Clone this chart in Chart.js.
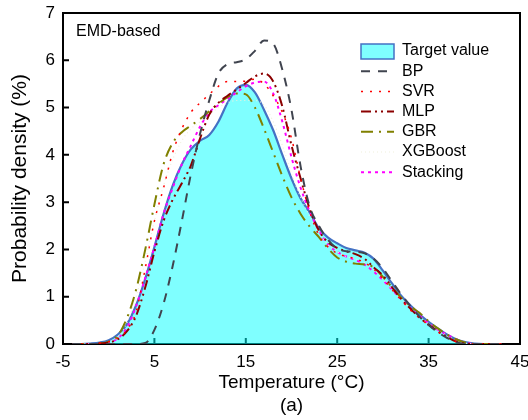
<!DOCTYPE html>
<html>
<head>
<meta charset="utf-8">
<script src="https://cdn.jsdelivr.net/npm/chart.js@4"></script>
<style>
  body { margin: 0; background: #fff; }
  canvas { display: block; }
</style>
</head>
<body>
<canvas id="kdeChart" width="528" height="420"></canvas>
<script>
// --- DATA ---
const temps = [-4, -3, -2, -1, 0, 1, 2, 3, 4, 5, 6, 7, 8, 9, 10, 11, 12, 13, 14, 15, 16, 17, 18, 19,
  20, 21, 22, 23, 24, 25, 26, 27, 28, 29, 30, 31, 32, 33, 34, 35, 36, 37, 38, 39, 40, 41, 42, 43];

const targetValue = [0, 0, 0.01, 0.03, 0.08, 0.2, 0.42, 0.82, 1.38, 2.05, 2.75, 3.35, 3.8, 4.12, 4.3, 4.42, 4.7, 5.1, 5.4, 5.48, 5.32, 4.95, 4.52, 4.0,
  3.5, 3.08, 2.78, 2.45, 2.25, 2.13, 2.03, 1.98, 1.93, 1.8, 1.55, 1.28, 1.02, 0.82, 0.63, 0.47, 0.33, 0.2, 0.1, 0.04, 0.01, 0, 0, 0];
const bp = [0, 0, 0, 0, 0, 0, 0, 0, 0.02, 0.3, 0.85, 1.65, 2.6, 3.6, 4.45, 5.15, 5.72, 5.92, 5.96, 6.02, 6.2, 6.42, 6.35, 5.8,
  4.95, 3.75, 2.9, 2.5, 2.2, 2.02, 1.96, 1.95, 1.92, 1.8, 1.6, 1.32, 1.05, 0.8, 0.58, 0.4, 0.25, 0.13, 0.04, 0, 0, 0, 0, 0];
const svr = [0, 0, 0, 0.02, 0.05, 0.13, 0.3, 0.68, 1.6, 2.6, 3.3, 4.05, 4.55, 4.9, 5.1, 5.28, 5.45, 5.55, 5.55, 5.56, 5.6, 5.5, 5.25, 4.9,
  4.35, 3.5, 2.8, 2.3, 2.05, 1.92, 1.85, 1.8, 1.72, 1.58, 1.38, 1.15, 0.93, 0.72, 0.55, 0.4, 0.26, 0.14, 0.05, 0, 0, 0, 0, 0];
const mlp = [0, 0, 0, 0.01, 0.03, 0.1, 0.27, 0.6, 1.2, 1.95, 2.6, 3.05, 3.4, 3.78, 4.35, 4.85, 5.1, 5.25, 5.38, 5.52, 5.66, 5.72, 5.55, 5.02,
  4.2, 3.5, 2.85, 2.4, 2.15, 2.03, 1.96, 1.9, 1.8, 1.62, 1.45, 1.2, 0.95, 0.75, 0.56, 0.41, 0.27, 0.15, 0.05, 0.01, 0, 0, 0, 0];
const gbr = [0, 0, 0, 0.01, 0.05, 0.18, 0.55, 1.15, 2.0, 2.95, 3.8, 4.25, 4.48, 4.62, 4.76, 4.92, 5.08, 5.22, 5.3, 5.28, 5.0, 4.55, 4.05, 3.55,
  3.1, 2.75, 2.48, 2.26, 2.02, 1.83, 1.74, 1.7, 1.68, 1.62, 1.42, 1.2, 0.98, 0.8, 0.66, 0.48, 0.33, 0.2, 0.1, 0.03, 0, 0, 0, 0];
const xgboost = [0, 0, 0, 0, 0.05, 0.15, 0.45, 1.0, 1.75, 2.6, 3.35, 3.9, 4.3, 4.55, 4.7, 4.85, 5.0, 5.1, 5.15, 5.15, 5.15, 5.05, 4.7, 4.2,
  3.6, 3.1, 2.7, 2.35, 2.1, 1.95, 1.85, 1.8, 1.72, 1.58, 1.38, 1.15, 0.95, 0.75, 0.58, 0.43, 0.3, 0.18, 0.08, 0.02, 0, 0, 0, 0];
const stacking = [0, 0, 0, 0, 0.03, 0.12, 0.35, 0.8, 1.4, 2.05, 2.75, 3.3, 3.8, 4.2, 4.6, 4.9, 5.05, 5.18, 5.32, 5.45, 5.53, 5.55, 5.3, 4.7,
  3.95, 3.3, 2.8, 2.4, 2.1, 1.95, 1.85, 1.78, 1.68, 1.53, 1.35, 1.15, 0.95, 0.76, 0.6, 0.44, 0.3, 0.2, 0.1, 0.03, 0, 0, 0, 0];

const xTicks = [-5, 5, 15, 25, 35, 45];
const yTicks = [0, 1, 2, 3, 4, 5, 6, 7];

const FONT = "'Liberation Sans', Arial, sans-serif";

const toPoints = (vals) => vals.map((v, i) => ({ x: temps[i], y: v }));

const line = (label, vals, color, dash, width) => ({
  label,
  data: toPoints(vals),
  borderColor: color,
  borderDash: dash,
  borderWidth: width,
  pointRadius: 0,
  fill: false,
  cubicInterpolationMode: 'monotone',
  order: 0
});

const datasets = [
  {
    label: 'Target value',
    data: toPoints(targetValue),
    borderColor: '#4472C4',
    borderWidth: 2.2,
    backgroundColor: 'rgba(0,255,255,0.5)',
    fill: 'origin',
    pointRadius: 0,
    cubicInterpolationMode: 'monotone',
    order: 1
  },
  line('BP', bp, '#40444F', [9, 8], 2),
  line('SVR', svr, '#FF0000', [2, 7], 1.5),
  line('MLP', mlp, '#8B0000', [10, 4, 2, 4, 2, 4], 2),
  line('GBR', gbr, '#808000', [12, 6, 2, 6], 2),
  line('XGBoost', xgboost, '#EFEFDC', [1, 3], 1.2),
  line('Stacking', stacking, '#FF00FF', [3, 4], 2)
];

// frame + inward ticks, drawn under the fill like in the original
const framePlugin = {
  id: 'frame',
  beforeDatasetsDraw(chart) {
    const { ctx, chartArea: a, scales: { x, y } } = chart;
    ctx.save();
    ctx.strokeStyle = '#000';
    ctx.lineWidth = 2;
    ctx.strokeRect(a.left, a.top, a.right - a.left, a.bottom - a.top);
    ctx.beginPath();
    xTicks.forEach(v => {
      const px = x.getPixelForValue(v);
      ctx.moveTo(px, a.bottom);
      ctx.lineTo(px, a.bottom - 6);
    });
    yTicks.forEach(v => {
      const py = y.getPixelForValue(v);
      ctx.moveTo(a.left, py);
      ctx.lineTo(a.left + 6, py);
    });
    ctx.stroke();
    ctx.restore();
  }
};

// note + legend drawn on top
const overlayPlugin = {
  id: 'overlay',
  afterDraw(chart) {
    const { ctx, chartArea: a } = chart;
    ctx.save();
    ctx.font = `16px ${FONT}`;
    ctx.fillStyle = '#000';
    ctx.textBaseline = 'middle';
    ctx.textAlign = 'left';
    ctx.fillText('EMD-based', a.left + 13, 32);

    const x0 = 361, x1 = 394, textX = 402;
    chart.data.datasets.forEach((ds, i) => {
      const cy = 51 + i * 20.2;
      if (i === 0) {
        ctx.fillStyle = ds.backgroundColor;
        ctx.fillRect(x0, cy - 7, x1 - x0, 15);
        ctx.strokeStyle = ds.borderColor;
        ctx.lineWidth = 1.5;
        ctx.setLineDash([]);
        ctx.strokeRect(x0, cy - 7, x1 - x0, 15);
      } else {
        ctx.strokeStyle = ds.borderColor;
        ctx.lineWidth = ds.borderWidth;
        ctx.setLineDash(ds.borderDash);
        ctx.beginPath();
        ctx.moveTo(x0, cy);
        ctx.lineTo(x1, cy);
        ctx.stroke();
      }
      ctx.setLineDash([]);
      ctx.fillStyle = '#000';
      ctx.fillText(ds.label, textX, cy);
    });
    ctx.restore();
  }
};

new Chart(document.getElementById('kdeChart'), {
  type: 'line',
  data: { datasets },
  options: {
    responsive: false,
    devicePixelRatio: 1,
    animation: false,
    layout: { padding: { top: 13, right: 8, left: 0, bottom: 0 } },
    plugins: { legend: { display: false }, tooltip: { enabled: false } },
    scales: {
      x: {
        type: 'linear',
        min: -5,
        max: 45,
        afterBuildTicks: (s) => { s.ticks = xTicks.map(v => ({ value: v })); },
        afterFit: (s) => { s.height = 76; s.paddingLeft = 0; s.paddingRight = 0; },
        grid: { display: false, drawTicks: false },
        border: { display: false },
        ticks: { color: '#000', padding: 8, font: { family: FONT, size: 17 } },
        title: {
          display: true,
          text: ['Temperature (°C)', '(a)'],
          color: '#000',
          padding: { top: 0, bottom: 3 },
          font: { family: FONT, size: 19, lineHeight: 1.2 }
        }
      },
      y: {
        min: 0,
        max: 7,
        afterBuildTicks: (s) => { s.ticks = yTicks.map(v => ({ value: v })); },
        afterFit: (s) => { s.width = 63; s.paddingTop = 0; s.paddingBottom = 0; },
        grid: { display: false, drawTicks: false },
        border: { display: false },
        ticks: { color: '#000', padding: 8, font: { family: FONT, size: 17 } },
        title: {
          display: true,
          text: 'Probability density (%)',
          color: '#000',
          padding: { top: 8, bottom: 0 },
          font: { family: FONT, size: 21, lineHeight: 1.2 }
        }
      }
    }
  },
  plugins: [framePlugin, overlayPlugin]
});
</script>
</body>
</html>
